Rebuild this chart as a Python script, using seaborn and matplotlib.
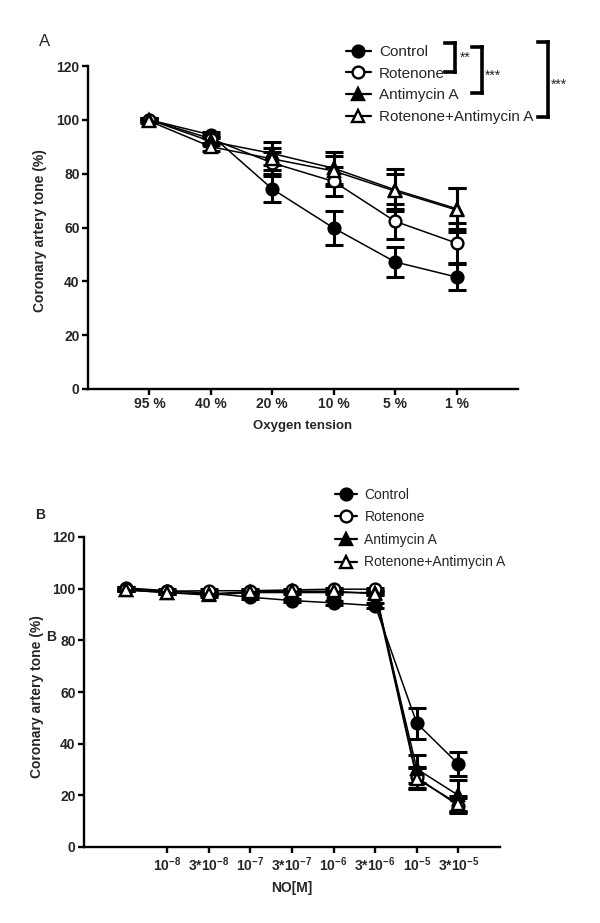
import seaborn as sns
import matplotlib.pyplot as plt
from matplotlib.lines import Line2D

# panel A: oxygen tension
oxygen_labels = ["95 %", "40 %", "20 %", "10 %", "5 %", "1 %"]
a_control = [100, 94.4, 74.3, 59.8, 47.2, 41.6]
a_control_err = [0.5, 1.0, 5.0, 6.2, 5.6, 4.8]
a_rotenone = [100, 93.0, 84.0, 77.1, 62.3, 54.2]
a_rotenone_err = [0.5, 1.5, 4.0, 5.5, 6.5, 7.5]
a_antimycin = [100, 92.0, 87.5, 82.0, 74.0, 67.0]
a_antimycin_err = [0.5, 1.5, 4.2, 6.0, 7.8, 7.5]
a_rot_anti = [99.5, 90.0, 85.5, 81.0, 73.5, 66.5]
a_rot_anti_err = [0.5, 1.5, 4.0, 5.5, 6.5, 8.0]

# panel B: NO concentration
no_labels = ["", r"10$^{\mathbf{-8}}$", r"3*10$^{\mathbf{-8}}$", r"10$^{\mathbf{-7}}$",
             r"3*10$^{\mathbf{-7}}$", r"10$^{\mathbf{-6}}$", r"3*10$^{\mathbf{-6}}$",
             r"10$^{\mathbf{-5}}$", r"3*10$^{\mathbf{-5}}$"]
b_control = [100.3, 99.2, 98.3, 96.7, 95.4, 94.5, 93.4, 47.9, 32.1]
b_control_err = [0.5, 0.5, 0.6, 0.6, 0.7, 0.8, 0.9, 6.0, 4.5]
b_rotenone = [100, 99.0, 99.2, 99.2, 99.5, 99.8, 99.8, 27.0, 16.0]
b_rotenone_err = [0.5, 0.5, 0.5, 0.5, 0.5, 0.5, 0.5, 4.0, 3.0]
b_antimycin = [99.5, 98.5, 97.5, 98.5, 98.5, 98.5, 98.5, 30.2, 20.0]
b_antimycin_err = [0.5, 0.5, 0.6, 0.6, 0.6, 0.6, 0.6, 5.5, 6.0]
b_rot_anti = [99.5, 98.5, 98.0, 98.8, 99.0, 99.0, 98.0, 26.4, 16.7]
b_rot_anti_err = [0.5, 0.5, 0.5, 0.5, 0.5, 0.5, 0.6, 4.0, 3.0]

series_names = ["Control", "Rotenone", "Antimycin A", "Rotenone+Antimycin A"]
markers = ["o", "o", "^", "^"]
faces = ["black", "white", "black", "white"]

sns.set_theme(style="ticks")
plt.rcParams["font.family"] = ["Liberation Sans", "DejaVu Sans"]
plt.rcParams["mathtext.fontset"] = "custom"
plt.rcParams["mathtext.bf"] = "Liberation Sans:bold"
plt.rcParams["mathtext.rm"] = "Liberation Sans:bold"

W, H = 600, 923
fig = plt.figure(figsize=(6, 9.23), dpi=100)


def px_ax(l, t, r, b):
    return fig.add_axes([l / W, 1 - b / H, (r - l) / W, (b - t) / H])


def draw_panel(ax, xs, series, errs):
    for name, ys, es, m, fc in zip(series_names, series, errs, markers, faces):
        sns.lineplot(x=xs, y=ys, ax=ax, color="black", lw=1.1, marker=m,
                     markersize=8.5, markerfacecolor=fc, markeredgecolor="black",
                     markeredgewidth=1.7, zorder=3)
        ax.errorbar(xs, ys, yerr=es, fmt="none", ecolor="black", elinewidth=2.2,
                    capsize=6.5, capthick=2.2, zorder=2)
    ax.set_ylim(0, 120)
    ax.set_yticks(range(0, 121, 20))
    sns.despine(ax=ax)
    for s in ["left", "bottom"]:
        ax.spines[s].set_linewidth(1.7)
        ax.spines[s].set_color("black")
    ax.tick_params(direction="out", length=4, width=1.7, color="black", labelsize=10,
                   pad=2)
    ax.set_ylabel("Coronary artery tone (%)", fontsize=10, fontweight="bold", va="center")


# ---- panel A
axA = px_ax(88, 66, 518, 389)
xa = list(range(1, len(oxygen_labels) + 1))
draw_panel(axA, xa, [a_control, a_rotenone, a_antimycin, a_rot_anti],
           [a_control_err, a_rotenone_err, a_antimycin_err, a_rot_anti_err])
axA.set_xlim(0, 7)
axA.set_xticks(xa, labels=oxygen_labels)
axA.yaxis.set_label_coords((40 - 88) / 430, 0.49)
axA.set_xlabel("Oxygen tension", fontsize=9.5, fontweight="bold", labelpad=6)

# ---- panel B
axB = px_ax(84, 537, 500, 847)
xb = list(range(len(no_labels)))
draw_panel(axB, xb, [b_control, b_rotenone, b_antimycin, b_rot_anti],
           [b_control_err, b_rotenone_err, b_antimycin_err, b_rot_anti_err])
axB.set_xlim(-1, 9)
axB.set_xticks(xb[1:], labels=no_labels[1:])
axB.tick_params(axis="x", labelsize=10)
axB.yaxis.set_label_coords((37 - 84) / 416, 0.485)
axB.set_xlabel("NO[M]", fontsize=10, fontweight="bold", labelpad=5)

for ax in (axA, axB):
    for lab in ax.get_yticklabels() + ax.get_xticklabels():
        lab.set_fontweight("bold")

handles = [Line2D([], [], color="black", lw=1.6, marker=m, markersize=8.5,
                  markerfacecolor=fc, markeredgecolor="black", markeredgewidth=1.7)
           for m, fc in zip(markers, faces)]

fig.legend(handles, series_names, loc="upper left", bbox_to_anchor=(340 / W, 1 - 39 / H),
           frameon=False, fontsize=11, handlelength=1.6, handletextpad=0.55,
           labelspacing=0.5, borderaxespad=0)
fig.legend(handles, series_names, loc="upper left", bbox_to_anchor=(329 / W, 1 - 482 / H),
           frameon=False, fontsize=10, handlelength=1.6, handletextpad=0.55,
           labelspacing=0.62, borderaxespad=0)


# significance brackets
def bracket(x, y0, y1, text, tx, ty):
    kw = dict(color="black", lw=2.6, solid_capstyle="projecting")
    fig.add_artist(Line2D([x / W, x / W], [1 - y0 / H, 1 - y1 / H], **kw))
    fig.add_artist(Line2D([(x - 10) / W, x / W], [1 - y0 / H, 1 - y0 / H], **kw))
    fig.add_artist(Line2D([(x - 10) / W, x / W], [1 - y1 / H, 1 - y1 / H], **kw))
    fig.text(tx / W, 1 - ty / H, text, fontsize=10, ha="left", va="center")


bracket(455, 43, 72, "**", 460, 58)
bracket(482, 47, 93, "***", 485, 76)
bracket(548, 42, 117, "***", 551, 85)

fig.text(45 / W, 1 - 42 / H, "A", fontsize=12, ha="center", va="center")
fig.text(40 / W, 1 - 515 / H, "B", fontsize=10, fontweight="bold", ha="center", va="center")
fig.text(51 / W, 1 - 637 / H, "B", fontsize=10, fontweight="bold", ha="center", va="center")

fig.savefig("out.png", dpi=100)
